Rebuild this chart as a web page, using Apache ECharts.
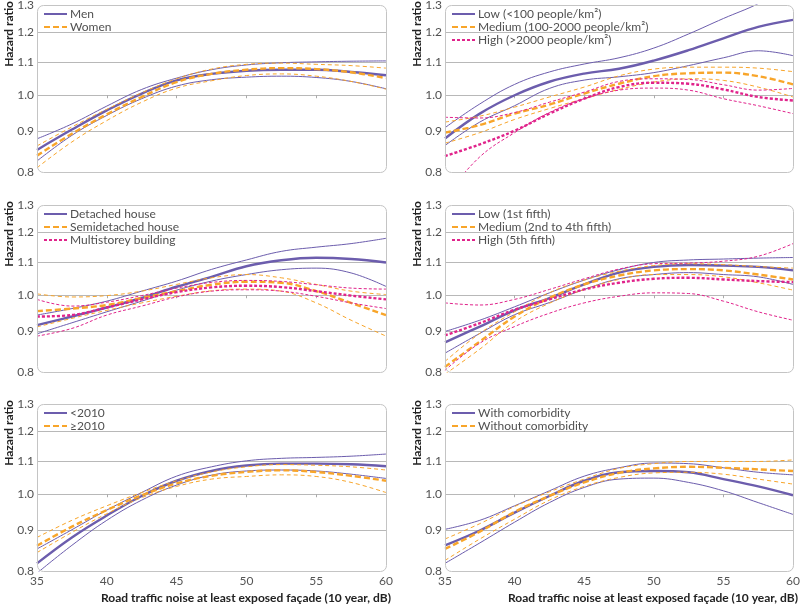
<!DOCTYPE html>
<html><head><meta charset="utf-8">
<script src="https://cdn.jsdelivr.net/npm/echarts@6/dist/echarts.min.js"></script>
<style>html,body{margin:0;padding:0;background:#fff}#c{width:800px;height:606px}</style>
</head><body><div id="c"></div>
<script>
// ---------- data (hazard ratios) ----------
const noise = [35, 37.5, 40, 42.5, 45, 47.5, 50, 52.5, 55, 57.5, 60];
const yTickLabels = [0.8, 0.9, 1.0, 1.1, 1.2, 1.3];
const yGridValues = [0.9, 1.0, 1.1, 1.2];
const xTickMarks = [40, 45, 50, 55];
const xTitle = 'Road traffic noise at least exposed façade (10 year, dB)';
const yTitle = 'Hazard ratio';

// Panel 1: sex
const menHR   = [0.853, 0.905, 0.957, 1.005, 1.044, 1.064, 1.074, 1.077, 1.077, 1.070, 1.060];
const menHi   = [0.881, 0.920, 0.969, 1.017, 1.051, 1.077, 1.092, 1.099, 1.102, 1.104, 1.105];
const menLo   = [0.826, 0.890, 0.943, 0.990, 1.027, 1.046, 1.054, 1.057, 1.053, 1.041, 1.019];
const womenHR = [0.839, 0.894, 0.946, 0.995, 1.039, 1.064, 1.077, 1.082, 1.079, 1.069, 1.051];
const womenHi = [0.863, 0.912, 0.960, 1.007, 1.049, 1.079, 1.094, 1.098, 1.094, 1.090, 1.082];
const womenLo = [0.810, 0.873, 0.929, 0.980, 1.021, 1.043, 1.059, 1.064, 1.057, 1.041, 1.018];

// Panel 2: population density
const popLowHR = [0.882, 0.948, 1.000, 1.040, 1.065, 1.080, 1.106, 1.140, 1.180, 1.220, 1.245];
const popLowHi = [0.910, 0.975, 1.032, 1.070, 1.095, 1.115, 1.147, 1.195, 1.250, 1.305, 1.380];
const popLowLo = [0.864, 0.925, 0.970, 1.020, 1.045, 1.055, 1.068, 1.090, 1.115, 1.138, 1.122];
const popMedHR = [0.897, 0.917, 0.948, 0.973, 1.005, 1.034, 1.057, 1.066, 1.068, 1.057, 1.032];
const popMedHi = [0.925, 0.941, 0.966, 0.995, 1.024, 1.058, 1.079, 1.085, 1.085, 1.082, 1.071];
const popMedLo = [0.870, 0.897, 0.932, 0.962, 0.990, 1.017, 1.039, 1.049, 1.044, 1.024, 0.995];
const popHighHR = [0.838, 0.867, 0.902, 0.948, 0.990, 1.024, 1.037, 1.034, 1.017, 0.995, 0.985];
const popHighHi = [0.938, 0.936, 0.951, 0.980, 1.009, 1.041, 1.049, 1.047, 1.031, 1.015, 1.020];
const popHighLo = [0.745, 0.836, 0.897, 0.951, 0.990, 1.015, 1.021, 1.015, 0.990, 0.970, 0.948];

// Panel 3: housing type
const detHR  = [0.917, 0.940, 0.965, 0.992, 1.025, 1.055, 1.088, 1.107, 1.115, 1.111, 1.100];
const detHi  = [0.944, 0.962, 0.983, 1.012, 1.042, 1.078, 1.108, 1.136, 1.150, 1.162, 1.180];
const detLo  = [0.894, 0.923, 0.953, 0.983, 1.015, 1.042, 1.062, 1.077, 1.082, 1.067, 1.026];
const semiHR = [0.955, 0.962, 0.972, 0.992, 1.012, 1.031, 1.040, 1.037, 1.012, 0.978, 0.944];
const semiHi = [1.004, 0.995, 0.999, 1.012, 1.032, 1.052, 1.062, 1.052, 1.032, 1.012, 1.002];
const semiLo = [0.912, 0.935, 0.957, 0.978, 0.997, 1.013, 1.018, 1.012, 0.978, 0.930, 0.888];
const multiHR = [0.940, 0.944, 0.965, 0.988, 1.009, 1.023, 1.028, 1.024, 1.012, 0.999, 0.988];
const multiHi = [0.988, 0.969, 0.980, 0.999, 1.021, 1.038, 1.044, 1.041, 1.031, 1.021, 1.018];
const multiLo = [0.888, 0.908, 0.944, 0.969, 0.995, 1.012, 1.016, 1.012, 0.997, 0.978, 0.962];

// Panel 4: income
const incLowHR = [0.872, 0.913, 0.957, 0.992, 1.032, 1.068, 1.086, 1.092, 1.090, 1.086, 1.075];
const incLowHi = [0.900, 0.930, 0.967, 1.007, 1.045, 1.077, 1.100, 1.108, 1.111, 1.114, 1.116];
const incLowLo = [0.845, 0.895, 0.945, 0.979, 1.017, 1.049, 1.062, 1.068, 1.062, 1.055, 1.032];
const incMedHR = [0.812, 0.874, 0.940, 0.992, 1.032, 1.059, 1.075, 1.079, 1.075, 1.062, 1.047];
const incMedHi = [0.825, 0.895, 0.953, 1.007, 1.045, 1.072, 1.090, 1.096, 1.093, 1.087, 1.082];
const incMedLo = [0.795, 0.855, 0.926, 0.977, 1.017, 1.047, 1.062, 1.062, 1.055, 1.037, 1.015];
const incHighHR = [0.890, 0.922, 0.959, 0.988, 1.017, 1.037, 1.049, 1.052, 1.047, 1.042, 1.039];
const incHighHi = [0.978, 0.972, 0.988, 1.017, 1.049, 1.079, 1.096, 1.098, 1.104, 1.120, 1.162];
const incHighLo = [0.804, 0.870, 0.913, 0.949, 0.978, 0.997, 1.007, 1.005, 0.983, 0.953, 0.930];

// Panel 5: calendar period
const preHR  = [0.818, 0.882, 0.940, 0.995, 1.040, 1.070, 1.087, 1.093, 1.093, 1.091, 1.085];
const preHi  = [0.853, 0.902, 0.955, 1.005, 1.054, 1.083, 1.102, 1.110, 1.113, 1.117, 1.124];
const preLo  = [0.795, 0.862, 0.927, 0.983, 1.027, 1.057, 1.070, 1.073, 1.070, 1.060, 1.047];
const postHR = [0.861, 0.910, 0.955, 0.997, 1.032, 1.055, 1.067, 1.072, 1.067, 1.055, 1.040];
const postHi = [0.882, 0.927, 0.967, 1.005, 1.040, 1.067, 1.083, 1.090, 1.088, 1.083, 1.073];
const postLo = [0.844, 0.895, 0.945, 0.990, 1.023, 1.045, 1.053, 1.058, 1.053, 1.035, 1.005];

// Panel 6: comorbidity
const withHR  = [0.862, 0.900, 0.948, 0.995, 1.040, 1.066, 1.070, 1.066, 1.045, 1.023, 0.997];
const withHi  = [0.903, 0.927, 0.967, 1.010, 1.054, 1.080, 1.095, 1.093, 1.080, 1.066, 1.058];
const withLo  = [0.818, 0.868, 0.922, 0.976, 1.020, 1.045, 1.048, 1.035, 1.010, 0.976, 0.943];
const woHR    = [0.853, 0.897, 0.950, 0.995, 1.035, 1.064, 1.078, 1.083, 1.080, 1.075, 1.070];
const woHi    = [0.878, 0.918, 0.965, 1.007, 1.045, 1.078, 1.093, 1.100, 1.100, 1.100, 1.105];
const woLo    = [0.825, 0.878, 0.930, 0.983, 1.023, 1.050, 1.064, 1.066, 1.060, 1.045, 1.030];

// ---------- styling / layout ----------
const FONT = 'Lato, "Noto Sans", sans-serif';
const STY = {
  P: { color: '#6c5dad', main: 'solid', ci: 'solid' },
  O: { color: '#f8a52a', main: [6, 3], ci: [4, 3] },
  M: { color: '#e0238b', main: [3, 2], ci: [3, 2] }
};
const panels = [
  { groups: [['Men', 'P', menHR, menHi, menLo], ['Women', 'O', womenHR, womenHi, womenLo]] },
  { groups: [['Low (<100 people/km²)', 'P', popLowHR, popLowHi, popLowLo],
             ['Medium (100-2000 people/km²)', 'O', popMedHR, popMedHi, popMedLo],
             ['High (>2000 people/km²)', 'M', popHighHR, popHighHi, popHighLo]] },
  { groups: [['Detached house', 'P', detHR, detHi, detLo],
             ['Semidetached house', 'O', semiHR, semiHi, semiLo],
             ['Multistorey building', 'M', multiHR, multiHi, multiLo]] },
  { groups: [['Low (1st fifth)', 'P', incLowHR, incLowHi, incLowLo],
             ['Medium (2nd to 4th fifth)', 'O', incMedHR, incMedHi, incMedLo],
             ['High (5th fifth)', 'M', incHighHR, incHighHi, incHighLo]] },
  { groups: [['<2010', 'P', preHR, preHi, preLo], ['≥2010', 'O', postHR, postHi, postLo]] },
  { groups: [['With comorbidity', 'P', withHR, withHi, withLo], ['Without comorbidity', 'O', woHR, woHi, woLo]] }
];
const CW = 800;
const colLeft = [37, 445], colW = [349, 348], rowTop = [5, 205, 404], H = 167;

const grids = [], xAxes = [], yAxes = [], series = [], legends = [], graphics = [], titles = [];
panels.forEach((p, i) => {
  const r = Math.floor(i / 2), c = i % 2;
  const L = colLeft[c], T = rowTop[r], W = colW[c];
  const bottom = r === 2;
  grids.push({ left: L, top: T, width: W, height: H, containLabel: false, outerBoundsMode: 'none' });
  xAxes.push({
    type: 'value', gridIndex: i, min: 35, max: 60, interval: 5,
    axisLine: { show: false },
    axisTick: { show: true, customValues: xTickMarks, length: 3, lineStyle: { color: '#aaaaaa' } },
    axisLabel: { show: bottom, color: '#555', fontSize: 12, margin: 4, fontFamily: FONT },
    splitLine: { show: false }
  });
  if (bottom) {
    titles.push({
      text: xTitle, right: CW - (L + W + 5), top: T + H + 21, padding: 0,
      textStyle: { fontFamily: FONT, fontWeight: 'bold', fontSize: 12, color: '#222' }
    });
  }
  yAxes.push({
    type: 'value', gridIndex: i, min: Math.log(0.8), max: Math.log(1.3),
    axisLine: { show: false },
    axisTick: { show: false, customValues: yGridValues.map(Math.log) },
    axisLabel: { customValues: yTickLabels.map(Math.log), formatter: v => Math.exp(v).toFixed(1),
      color: '#505050', fontSize: 12, margin: 3, fontFamily: FONT },
    splitLine: { show: true, lineStyle: { color: '#b8b8b8', width: 1 } },
    name: yTitle, nameLocation: 'end', nameRotate: 90, nameGap: 4, nameMoveOverlap: false,
    nameTextStyle: { fontFamily: FONT, fontWeight: 'bold', fontSize: 12, color: '#222',
      align: 'right', verticalAlign: 'bottom', padding: [0, 0, 22, 0] }
  });
  const names = [];
  p.groups.forEach(([name, sty, hr, hi, lo]) => {
    const s = STY[sty];
    const mk = (nm, arr, w, type) => ({
      type: 'line', name: nm, xAxisIndex: i, yAxisIndex: i, smooth: 0.4, symbol: 'none',
      showSymbol: false, silent: true, clip: true,
      data: noise.map((x, k) => [x, Math.log(arr[k])]),
      lineStyle: { color: s.color, width: w, type: type }, itemStyle: { color: s.color }
    });
    series.push(mk(name + ' upper CI', hi, 1, s.ci));
    series.push(mk(name + ' lower CI', lo, 1, s.ci));
    series.push(mk(name, hr, 2.4, s.main));
    names.push(name);
  });
  legends.push({
    data: names, orient: 'vertical', left: L + 6, top: T + 3, itemWidth: 23, itemHeight: 10,
    itemGap: 1, padding: 0, selectedMode: false, itemStyle: { opacity: 0 },
    textStyle: { color: '#505050', fontSize: 12, fontFamily: FONT, padding: [0, 0, 0, -2] }
  });
  graphics.push({
    type: 'rect', silent: true, z: 100,
    shape: { x: L + 0.5, y: T + 0.5, width: W, height: H, r: 6 },
    style: { fill: 'none', stroke: '#c4c4c4', lineWidth: 1 }
  });
});

const chart = echarts.init(document.getElementById('c'), null, { renderer: 'canvas' });
chart.setOption({
  animation: false, backgroundColor: '#fff',
  textStyle: { fontFamily: FONT },
  title: titles,
  grid: grids, xAxis: xAxes, yAxis: yAxes, series: series, legend: legends,
  graphic: { elements: graphics }
});
</script></body></html>
